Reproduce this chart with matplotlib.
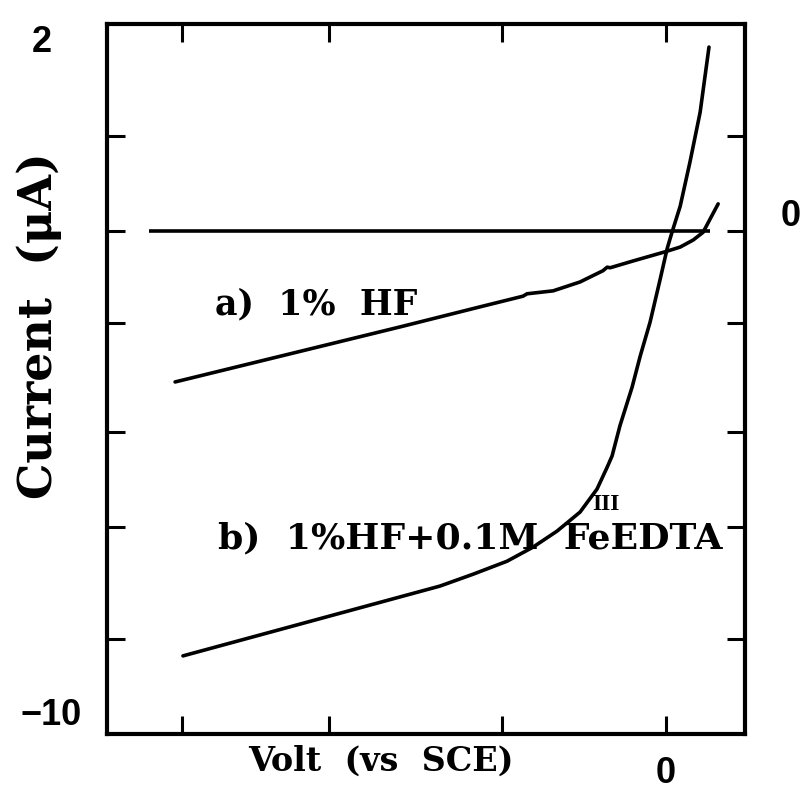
import numpy as np
import matplotlib
matplotlib.use("Agg")
import matplotlib.pyplot as plt

# curve a) 1% HF  (volt vs SCE, current in uA read on the left scale)
a_volt = [-1.50, -0.813, -0.568, -0.437, -0.425, -0.345, -0.263, -0.193, -0.180,
          -0.171, -0.104, -0.003, 0.043, 0.083, 0.113, 0.134, 0.159]
a_curr = [-4.05, -3.12, -2.78, -2.60, -2.56, -2.51, -2.36, -2.17, -2.11,
          -2.12, -2.01, -1.85, -1.77, -1.65, -1.52, -1.30, -1.04]

# curve b) 1%HF + 0.1M Fe(III)EDTA
b_volt = [-1.476, -0.691, -0.590, -0.486, -0.406, -0.333, -0.263, -0.211, -0.180,
          -0.165, -0.141, -0.104, -0.079, -0.049, -0.018, 0.003, 0.018, 0.043,
          0.073, 0.104, 0.131]
b_curr = [-8.68, -7.50, -7.30, -7.08, -6.84, -6.57, -6.25, -5.86, -5.49,
          -5.30, -4.79, -4.14, -3.61, -3.04, -2.31, -1.80, -1.52, -1.08,
          -0.33, 0.51, 1.61]

# zero line of the right hand scale
zero_level = -1.5
zero_from, zero_to = -1.58, 0.135

x_ticks = [-1.48, -1.03, -0.50, 0.0]
y_ticks = [0.1, -1.5, -3.05, -4.9, -6.5, -8.4]

serif = "DejaVu Serif"
sans = "Liberation Sans"

fig = plt.figure(figsize=(8.03, 8.04), dpi=100)
ax = fig.add_axes([107/803, 1-735/804, (745-107)/803, (735-25)/804])

ax.plot(a_volt, a_curr, color="black", lw=2.6, solid_capstyle="round", solid_joinstyle="round")
ax.plot(b_volt, b_curr, color="black", lw=2.6, solid_capstyle="round", solid_joinstyle="round")
ax.hlines(zero_level, zero_from, zero_to, color="black", lw=2.6)

ax.set_xlim(-1.708, 0.241)
ax.set_ylim(-10, 2)

ax.set_xticks(x_ticks)
ax.set_yticks(y_ticks)
ax.set_xticklabels([])
ax.set_yticklabels([])
ax.tick_params(direction="in", length=13, width=2.2, top=True, right=True)
for s in ax.spines.values():
    s.set_linewidth(3)

# scale numbers
ax.text(-0.102, 1.0, "2", transform=ax.transAxes, ha="center", va="top",
        fontsize=26, fontweight="bold", family=sans)
ax.text(-0.088, 0.003, "\u221210", transform=ax.transAxes, ha="center", va="bottom",
        fontsize=26, fontweight="bold", family=sans)
ax.text(1.072, 0.705, "0", transform=ax.transAxes, ha="center", va="bottom",
        fontsize=26, fontweight="bold", family=sans)
ax.text(0.0, -0.03, "0", transform=ax.get_xaxis_transform(), ha="center", va="top",
        fontsize=26, fontweight="bold", family=sans)

# curve labels
ax.text(-1.378, -2.90, "a)  1%  HF", ha="left", va="baseline",
        fontsize=25, fontweight="bold", family=serif)
ax.text(-1.368, -6.84, "b)  1%HF+0.1M  FeEDTA", ha="left", va="baseline",
        fontsize=26, fontweight="bold", family=serif)
ax.text(-0.226, -6.20, "III", ha="left", va="baseline",
        fontsize=17, fontweight="bold", family="Liberation Serif")

fig.text(381/803, 1-771/804, "Volt  (vs  SCE)", ha="center", va="baseline",
         fontsize=24, fontweight="bold", family=serif)
fig.text(39/803, 1-326/804, "Current  (\u03bcA)", ha="center", va="center",
         rotation=90, fontsize=33, fontweight="bold", family=serif)

fig.savefig("out.png", dpi=100)
